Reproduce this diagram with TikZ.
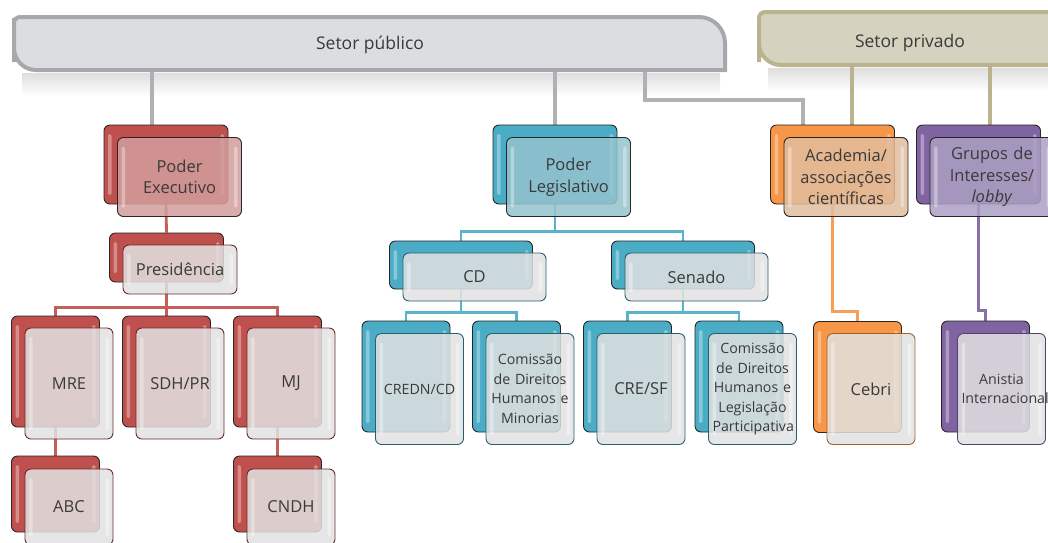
\documentclass[tikz,border=0pt]{standalone}
\usepackage{fontspec}
\setmainfont{Open Sans}
\usetikzlibrary{backgrounds,calc}
\hyphenpenalty=10000 \exhyphenpenalty=10000

\definecolor{exred}{HTML}{C0504D}
\definecolor{legblue}{HTML}{4BACC6}
\definecolor{acorange}{HTML}{F79646}
\definecolor{lobpurple}{HTML}{8064A2}
\definecolor{exfront}{HTML}{D29E9C}
\definecolor{legfront}{HTML}{95C3CE}
\definecolor{acfront}{HTML}{E1BD9F}
\definecolor{lobfront}{HTML}{AC9FC3}
\definecolor{leaffill}{HTML}{E2E2E2}
\definecolor{pubgray}{HTML}{DCDDE0}
\definecolor{pubedge}{HTML}{A7A8AC}
\definecolor{privfill}{HTML}{D5D3BF}
\definecolor{privedge}{HTML}{B9B48E}
\definecolor{txt}{HTML}{3A3A3A}

\begin{document}
\begin{tikzpicture}[x=1pt,y=-1pt,
  big/.style={font=\fontsize{16.5}{21.5}\selectfont},
  small/.style={font=\fontsize{14.2}{19.5}\selectfont},
  shine/.style={path picture={
      \fill[white,opacity=.35,rounded corners=1.5]
        ([xshift=4,yshift=-9]path picture bounding box.north west) rectangle
        ([xshift=7.5,yshift=9]path picture bounding box.south west);
      \fill[white,opacity=.35,rounded corners=1.5]
        ([xshift=-7.5,yshift=-9]path picture bounding box.north east) rectangle
        ([xshift=-4,yshift=9]path picture bounding box.south east);}},
  bk/.style={draw=black!85, line width=.9, rounded corners=6, fill=#1, shine,
    inner sep=4, align=center},
  fr/.style 2 args={draw=#2, line width=.9, rounded corners=6, fill=#1,
    fill opacity=.85, text opacity=1, shine, inner sep=4, align=center, text=txt},
  topsz/.style={minimum width=124, minimum height=79, text width=116},
  midsz/.style={minimum width=114, minimum height=49, text width=106},
  widesz/.style={minimum width=143, minimum height=48, text width=135},
  leafsz/.style={minimum width=88, minimum height=111, text width=80},
  lowsz/.style={minimum width=88, minimum height=76, text width=80},
  publine/.style={draw=pubedge!90!white, line width=4},
  privline/.style={draw=privedge, line width=4},
  link/.style={draw=#1!92!white, line width=2.8}
]
\useasboundingbox (0,0) rectangle (1048,542);
\clip (0,0) rectangle (1048,542);

% setores
\draw[publine, draw=pubedge, fill=pubgray] (14,40) [rounded corners=6] -- (14,17)
  [rounded corners=26] -- (725,17) [sharp corners] -- (725,70)
  [rounded corners=22] -- (14,70) -- cycle;
\node[font=\fontsize{17.5}{21}\selectfont, text=txt] (pub) at (370,45) {Setor público};
\draw[privline, fill=privfill] (759,40) [rounded corners=6] -- (759,12)
  [sharp corners] -- (1070,12) -- (1070,65)
  [rounded corners=22] -- (759,65) -- cycle;
\node[font=\fontsize{17.5}{21}\selectfont, text=txt] (priv) at (910,43) {Setor privado};

\coordinate (pubA) at (152,70);
\coordinate (pubB) at (555,70);
\coordinate (pubC) at (645,70);
\coordinate (privA) at (852,65);
\coordinate (privB) at (990,65);

% executivo
\node[bk=exred, topsz] (pe) at (166,164.5) {};
\node[fr={exfront}{black!85}, topsz, big] (pe') at ([shift={(13.5,12.5)}]pe) {Poder\\Executivo};
\node[bk=exred, midsz] (pres) at (166.5,257.5) {};
\node[fr={leaffill}{exred!55!black}, midsz, big] (pres') at ([shift={(13.5,12)}]pres) {Presidência};
\node[bk=exred, leafsz] (mre) at (55.5,371.5) {};
\node[fr={leaffill}{exred!55!black}, leafsz, big] (mre') at ([shift={(13.5,12)}]mre) {MRE};
\node[bk=exred, leafsz] (sdh) at (166.5,371.5) {};
\node[fr={leaffill}{exred!55!black}, leafsz, big] (sdh') at ([shift={(13.5,12)}]sdh) {SDH/PR};
\node[bk=exred, leafsz] (mj) at (277.5,371.5) {};
\node[fr={leaffill}{exred!55!black}, leafsz, big] (mj') at ([shift={(13.5,12)}]mj) {MJ};
\node[bk=exred, lowsz] (abc) at (55.5,494) {};
\node[fr={leaffill}{exred!55!black}, lowsz, big] (abc') at ([shift={(13.5,13)}]abc) {ABC};
\node[bk=exred, lowsz] (cndh) at (277.5,494) {};
\node[fr={leaffill}{exred!55!black}, lowsz, big] (cndh') at ([shift={(13.5,13)}]cndh) {CNDH};

% legislativo
\node[bk=legblue, topsz] (pl) at (555,164.5) {};
\node[fr={legfront}{black!85}, topsz, big] (pl') at ([shift={(13.5,12.5)}]pl) {Poder\\Legislativo};
\node[bk=legblue, widesz] (cd) at (461,265) {};
\node[fr={leaffill}{legblue!55!black}, widesz, big] (cd') at ([shift={(13.5,12)}]cd) {CD};
\node[bk=legblue, widesz] (sen) at (683,265) {};
\node[fr={leaffill}{legblue!55!black}, widesz, big] (sen') at ([shift={(13.5,12)}]sen) {Senado};
\node[bk=legblue, leafsz] (credn) at (406,376.5) {};
\node[fr={leaffill}{legblue!55!black}, leafsz, small] (credn') at ([shift={(13.5,12.5)}]credn) {CREDN/CD};
\node[bk=legblue, leafsz] (comcd) at (516.5,376.5) {};
\node[fr={leaffill}{legblue!55!black}, leafsz, small] (comcd') at ([shift={(13.5,12.5)}]comcd) {Comissão\\de Direitos\\Humanos e\\Minorias};
\node[bk=legblue, leafsz] (cre) at (627.5,376.5) {};
\node[fr={leaffill}{legblue!55!black}, leafsz, big] (cre') at ([shift={(13.5,12.5)}]cre) {CRE/SF};
\node[bk=legblue, leafsz] (comsf) at (739,376.5) {};
\node[fr={leaffill}{legblue!55!black}, leafsz, small] (comsf') at ([shift={(13.5,12.5)}]comsf) {Comissão\\de Direitos\\Humanos e\\Legislação\\Participativa};

% setor privado
\node[bk=acorange, topsz] (acad) at (832.5,164.5) {};
\node[fr={acfront}{black!85}, topsz, big] (acad') at ([shift={(13.5,12.5)}]acad) {Academia/\\associações\\científicas};
\node[bk=acorange, leafsz] (cebri) at (857.5,377) {};
\node[fr={leaffill}{acorange!65!black}, leafsz, big] (cebri') at ([shift={(13.5,12)}]cebri) {Cebri};
\node[bk=lobpurple, topsz] (grp) at (978.5,164.5) {};
\node[fr={lobfront}{black!85}, topsz, big] (grp') at ([shift={(13.5,12.5)}]grp) {Grupos de\\Interesses/\\\textit{lobby}};
\node[bk=lobpurple, leafsz] (anis) at (985.5,376.5) {};
\node[fr={leaffill}{lobpurple!65!black}, leafsz, small] (anis') at ([shift={(16,12.5)}]anis) {Anistia\\Internacional};

\begin{scope}[on background layer]
  \shade[top color=black!13, bottom color=white] (22,73) rectangle (720,96);
  \shade[top color=black!13, bottom color=white] (768,68) rectangle (1048,91);
  \draw[publine] (pubA) -- (pubA |- pe.north);
  \draw[publine] (pubB) -- (pl.north);
  \draw[publine] (pubC) -- ++(0,30) -| ([xshift=-30]acad.north);
  \draw[privline] (privA) -- (privA |- acad.north);
  \draw[privline] (privB) -- (privB |- grp.north);
  \draw[link=exred] (pe.south) -- (pres.north);
  \draw[link=exred] (pres.south) -- ++(0,25) -| (mre.north);
  \draw[link=exred] (pres.south) -- ++(0,25) -| (mj.north);
  \draw[link=exred] (pres.south) -- (sdh.north);
  \draw[link=exred] (mre.south) -- (abc.north);
  \draw[link=exred] (mj.south) -- (cndh.north);
  \draw[link=legblue] (pl.south) -- ++(0,27) -| (cd.north);
  \draw[link=legblue] (pl.south) -- ++(0,27) -| (sen.north);
  \draw[link=legblue] (cd.south) -- ++(0,23) -| (credn.north);
  \draw[link=legblue] (cd.south) -- ++(0,23) -| (comcd.north);
  \draw[link=legblue] (sen.south) -- ++(0,23) -| (cre.north);
  \draw[link=legblue] (sen.south) -- ++(0,23) -| (comsf.north);
  \draw[link=acorange] (acad.south) -- ++(0,107) -| (cebri.north);
  \draw[link=lobpurple] (grp.south) -- ++(0,106) -| (anis.north);
\end{scope}
\end{tikzpicture}
\end{document}
